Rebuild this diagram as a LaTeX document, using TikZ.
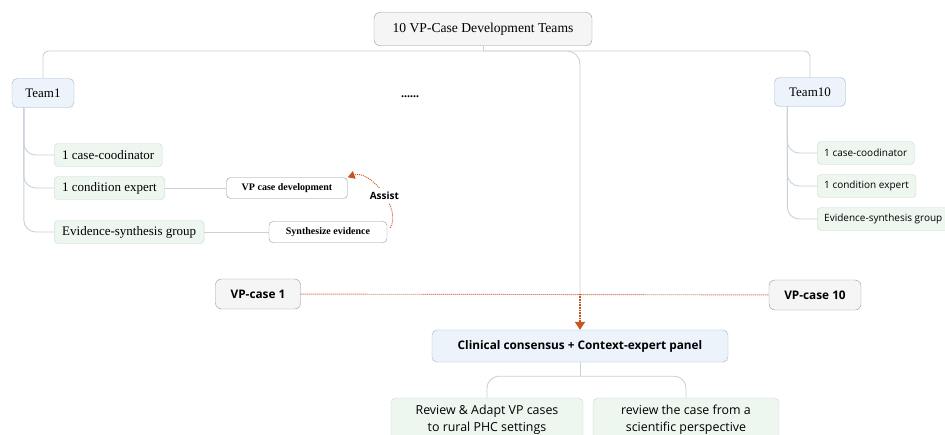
\documentclass[tikz,border=0pt]{standalone}
\usepackage{fontspec}
\setmainfont{Liberation Serif}
\setsansfont{Open Sans}
\usetikzlibrary{arrows.meta, positioning, calc}
\definecolor{linegray}{RGB}{200,210,216}
\definecolor{rootfill}{RGB}{245,245,245}
\definecolor{rootline}{RGB}{150,150,150}
\definecolor{teamfill}{RGB}{236,243,250}
\definecolor{teamline}{RGB}{160,180,200}
\definecolor{leaffill}{RGB}{238,246,240}
\definecolor{leafline}{RGB}{196,218,202}
\definecolor{rust}{RGB}{196,86,30}

\tikzset{
  link/.style={draw=linegray, line width=0.9pt},
  rootbox/.style={draw=rootline, fill=rootfill, rounded corners=6pt, minimum width=218pt, minimum height=33pt, font=\fontsize{13.6}{15}\selectfont},
  teambox/.style={draw=teamline, fill=teamfill, rounded corners=5pt, minimum height=29pt, font=\fontsize{13}{15}\selectfont},
  leafbox/.style={draw=leafline, fill=leaffill, rounded corners=4pt, minimum height=23pt, inner xsep=8pt, anchor=west, font=\fontsize{13}{15}\selectfont},
  sansleaf/.style={leafbox, inner xsep=7pt, font=\sffamily\fontsize{10}{12}\selectfont},
  taskbox/.style={draw=rootline, fill=white, rounded corners=4pt, minimum height=21pt, font=\bfseries\fontsize{10}{12}\selectfont},
  casebox/.style={draw=rootline, fill=rootfill, rounded corners=6pt, minimum height=30pt, font=\sffamily\bfseries\fontsize{11.8}{14}\selectfont},
  panelbox/.style={draw=teamline, fill=teamfill, rounded corners=5pt, minimum width=296pt, minimum height=32pt, font=\sffamily\bfseries\fontsize{11.8}{14}\selectfont},
  reviewbox/.style={draw=leafline, fill=leaffill, rounded corners=5pt, minimum height=44pt, align=center, font=\sffamily\fontsize{12.4}{17}\selectfont},
  rustdot/.style={draw=rust, line width=0.9pt, dash pattern=on 1pt off 1pt},
  rustdrop/.style={draw=rust, line width=2.6pt, dash pattern=on 0.8pt off 0.8pt, -{Triangle[length=8pt,width=10pt]}},
  assistlbl/.style={fill=white, inner sep=4pt, font=\sffamily\bfseries\fontsize{10}{12}\selectfont}
}

\begin{document}
\begin{tikzpicture}[x=1pt, y=-1pt]
  \useasboundingbox (0,0) rectangle (945,434);

  % Root and teams
  \node[rootbox] (root) at (483,29) {10 VP-Case Development Teams};
  \node[teambox, minimum width=62pt] (team1) at (43,93) {Team1};
  \node[teambox, minimum width=71pt] (team10) at (810,92) {Team10};
  \node[font=\bfseries\fontsize{12}{12}\selectfont] (dots) at (410,97) {......};

  % Team1 members
  \node[leafbox] (coord1) at (54,155) {1 case-coodinator};
  \node[leafbox] (expert1) at (54,188) {1 condition expert};
  \node[leafbox] (synth1) at (54,232) {Evidence-synthesis group};
  \node[taskbox, minimum width=121pt] (vpdev) at (287,188) {VP case development};
  \node[taskbox, minimum width=118pt] (synev) at (328,232) {Synthesize evidence};

  % Team10 members
  \node[sansleaf] (coord10) at (817,153) {1 case-coodinator};
  \node[sansleaf] (expert10) at (817,186) {1 condition expert};
  \node[sansleaf] (synth10) at (817,219) {Evidence-synthesis group};

  % Cases and panel
  \node[casebox, minimum width=85pt] (vpc1) at (258,294) {VP-case 1};
  \node[casebox, minimum width=92pt] (vpc10) at (815,295) {VP-case 10};
  \node[panelbox] (panel) at (580,346) {Clinical consensus + Context-expert panel};
  \node[reviewbox, minimum width=192pt] (adapt) at (487,420) {Review \& Adapt VP cases\\to rural PHC settings};
  \node[reviewbox, minimum width=186pt] (science) at (686,420) {review the case from a\\scientific perspective};

  % Tree links
  \coordinate (hub) at (root.south |- 0,51);
  \draw[link] (root.south) -- (hub);
  \draw[link, rounded corners=6pt] (hub) -| (team1.north);
  \draw[link, rounded corners=6pt] (hub) -| (team10.north);
  \draw[link, rounded corners=13pt] (hub) -| (panel.north);
  \foreach \m in {coord1, expert1, synth1}
    \draw[link, rounded corners=12pt] ([xshift=12pt]team1.south west) |- (\m.west);
  \foreach \m in {coord10, expert10, synth10}
    \draw[link, rounded corners=12pt] ([xshift=13pt]team10.south west) |- (\m.west);
  \draw[link] (expert1) -- (vpdev);
  \draw[link] (synth1) -- (synev);

  \coordinate (fork) at ($(panel.south)+(0,14)$);
  \draw[link] (panel.south) -- (fork);
  \draw[link, rounded corners=12pt] (fork) -| (adapt.north);
  \draw[link, rounded corners=12pt] (fork) -| (science.north);

  % Assist and case flow
  \draw[rustdot, -{Triangle[length=7pt,width=8pt]}] ([xshift=3pt,yshift=4pt]synev.east)
    .. controls +(12,-20) and +(22,-8) .. node[pos=0.45, assistlbl] {Assist} (vpdev.north east);
  \draw[rustdot] (vpc1) -- (vpc10);
  \coordinate (drop) at (panel.north |- vpc1.east);
  \draw[rustdrop] (drop) -- (panel.north);
\end{tikzpicture}
\end{document}
